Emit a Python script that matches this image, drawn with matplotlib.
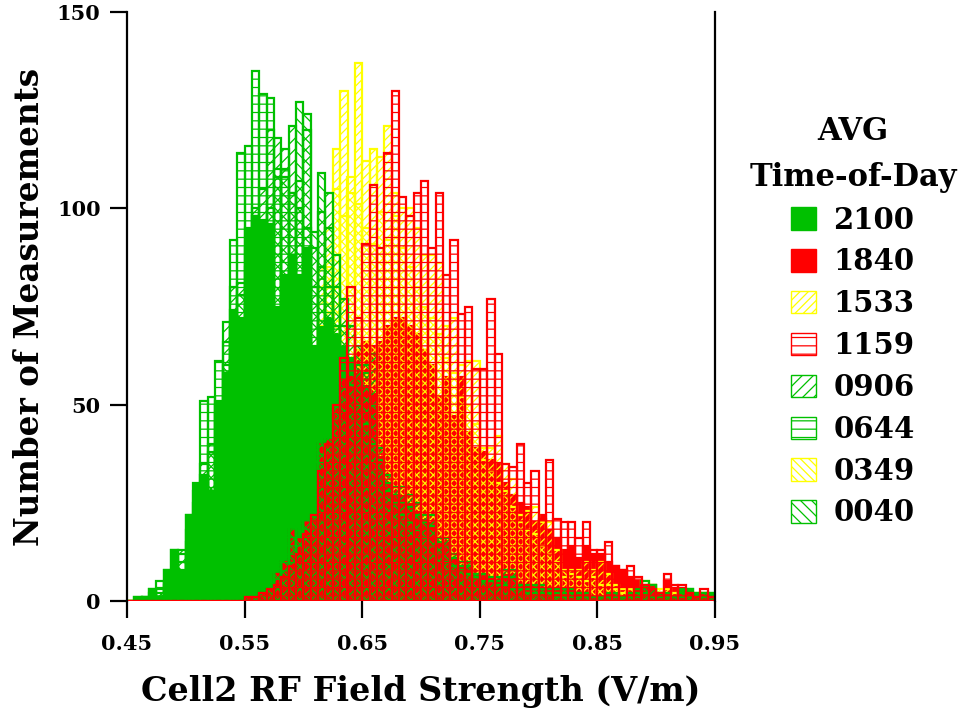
import numpy as np
import matplotlib
matplotlib.use("Agg")
import matplotlib.pyplot as plt
from matplotlib.patches import Patch
from matplotlib.path import Path

plt.rcParams['font.family'] = ['DejaVu Serif']
plt.rcParams['font.weight'] = 'bold'
plt.rcParams['hatch.linewidth'] = 0.9

# Histogram bins: 80 bins of width 0.00625 V/m from 0.45 to 0.95
bin_start = 0.45
bin_width = 0.00625
n_bins = 80

labels = ["2100", "1840", "1533", "1159", "0906", "0644", "0349", "0040"]

t2100 = [0, 1, 1, 3, 1, 8, 13, 8, 22, 30,
         32, 28, 51, 58, 74, 72, 95, 98, 97, 96,
         75, 83, 88, 83, 90, 65, 70, 72, 68, 65,
         62, 58, 55, 53, 37, 30, 27, 27, 25, 23,
         21, 20, 15, 15, 11, 9, 9, 7, 7, 6,
         5, 7, 7, 4, 4, 4, 3, 3, 3, 3,
         3, 2, 2, 1, 1, 2, 2, 1, 2, 3,
         4, 4, 2, 2, 1, 3, 3, 2, 2, 2]

t1840 = [0, 0, 0, 0, 0, 0, 0, 0, 0, 0,
         0, 0, 0, 0, 0, 0, 1, 1, 2, 3,
         7, 10, 18, 16, 20, 21, 40, 41, 49, 56,
         57, 64, 66, 65, 66, 70, 72, 72, 70, 68,
         64, 60, 52, 57, 47, 57, 43, 39, 38, 36,
         35, 30, 27, 25, 24, 20, 22, 18, 16, 13,
         14, 11, 14, 12, 12, 10, 9, 8, 6, 5,
         3, 4, 2, 5, 3, 2, 2, 1, 2, 1]

t1533 = [0, 0, 0, 0, 0, 0, 0, 0, 0, 0,
         1, 1, 2, 5, 6, 6, 11, 13, 19, 29,
         37, 42, 44, 50, 60, 64, 85, 95, 115, 130,
         108, 137, 112, 115, 113, 121, 104, 100, 100, 95,
         88, 88, 86, 70, 72, 60, 61, 61, 39, 39,
         42, 35, 31, 22, 23, 24, 20, 20, 13, 6,
         8, 8, 10, 8, 10, 7, 4, 3, 3, 2,
         5, 4, 3, 3, 2, 2, 1, 2, 2, 1]

t1159 = [0, 0, 0, 0, 0, 0, 0, 0, 0, 0,
         0, 0, 0, 0, 0, 0, 1, 1, 2, 3,
         4, 6, 9, 12, 17, 22, 33, 40, 50, 62,
         80, 72, 91, 106, 90, 114, 130, 103, 98, 104,
         107, 90, 104, 83, 92, 73, 75, 59, 59, 77,
         63, 35, 34, 40, 30, 33, 21, 36, 21, 20,
         20, 16, 20, 13, 13, 15, 9, 8, 9, 6,
         4, 3, 2, 7, 4, 4, 2, 1, 3, 1]

t0906 = [0, 0, 1, 2, 3, 5, 8, 13, 18, 25,
         35, 40, 50, 71, 80, 81, 90, 100, 105, 120,
         118, 115, 121, 107, 120, 90, 99, 104, 88, 77,
         70, 60, 58, 63, 39, 32, 29, 29, 27, 25,
         22, 22, 16, 16, 12, 10, 10, 7, 7, 6,
         6, 8, 8, 4, 4, 4, 4, 3, 3, 3,
         3, 2, 2, 1, 1, 2, 2, 1, 2, 3,
         5, 4, 2, 2, 1, 3, 3, 2, 2, 2]

t0644 = [0, 1, 1, 3, 5, 8, 13, 12, 22, 28,
         51, 52, 61, 66, 92, 114, 116, 135, 129, 128,
         108, 110, 104, 100, 95, 80, 85, 80, 70, 60,
         55, 50, 45, 40, 33, 28, 25, 22, 20, 18,
         16, 14, 12, 10, 9, 8, 7, 6, 5, 5,
         4, 4, 3, 3, 2, 2, 2, 2, 1, 1,
         1, 1, 1, 0, 1, 1, 0, 1, 1, 1,
         2, 1, 1, 0, 1, 1, 1, 0, 1, 1]

t0349 = [0, 0, 0, 0, 0, 0, 0, 0, 0, 0,
         0, 1, 1, 2, 1, 5, 6, 7, 12, 15,
         22, 30, 41, 38, 50, 62, 70, 85, 105, 98,
         104, 101, 95, 91, 99, 92, 98, 90, 85, 80,
         75, 72, 68, 62, 58, 52, 50, 45, 36, 33,
         30, 28, 24, 20, 18, 17, 14, 12, 10, 8,
         7, 6, 5, 6, 4, 4, 3, 2, 3, 2,
         2, 1, 2, 1, 1, 1, 1, 0, 1, 1]

t0040 = [0, 0, 0, 1, 2, 4, 6, 10, 15, 22,
         30, 38, 48, 60, 70, 78, 85, 98, 95, 100,
         110, 108, 104, 127, 124, 94, 109, 95, 80, 70,
         62, 65, 60, 50, 36, 30, 27, 25, 24, 22,
         20, 19, 15, 14, 11, 9, 9, 7, 7, 5,
         5, 6, 6, 4, 3, 3, 3, 2, 2, 2,
         2, 2, 1, 1, 1, 1, 1, 1, 1, 2,
         4, 3, 1, 1, 1, 2, 2, 1, 1, 1]

GREEN = "#00c000"
RED = "#ff0000"
YELLOW = "#ffff00"

styles = {
    "2100": dict(face=GREEN, edge=GREEN, hatch=None),
    "1840": dict(face=RED, edge=RED, hatch=None),
    "1533": dict(face="none", edge=YELLOW, hatch="////"),
    "1159": dict(face="none", edge=RED, hatch="--"),
    "0906": dict(face="none", edge=GREEN, hatch="///"),
    "0644": dict(face="none", edge=GREEN, hatch="--"),
    "0349": dict(face="none", edge=YELLOW, hatch="\\\\\\\\"),
    "0040": dict(face="none", edge=GREEN, hatch="\\\\\\"),
}
data = {"2100": t2100, "1840": t1840, "1533": t1533, "1159": t1159,
        "0906": t0906, "0644": t0644, "0349": t0349, "0040": t0040}

draw_order = ["2100", "1840", "0349", "1533", "0040", "0906", "0644", "1159"]

fig = plt.figure(figsize=(9.69, 7.13), dpi=100)
ax = fig.add_axes([127 / 969, 1 - 601 / 713, 588 / 969, 589 / 713])

lefts = bin_start + bin_width * np.arange(n_bins)

# region above the solid green bars (yellow hatch is hidden under solid green)
verts, codes = [], []
g = np.asarray(t2100, dtype=float)
for x0, h in zip(lefts, g):
    x1 = x0 + bin_width
    verts += [(x0, h), (x1, h), (x1, 200), (x0, 200), (x0, h)]
    codes += [Path.MOVETO, Path.LINETO, Path.LINETO, Path.LINETO, Path.CLOSEPOLY]
above_green = Path(verts, codes)

for z, name in enumerate(draw_order):
    st = styles[name]
    vals = np.asarray(data[name], dtype=float)
    bars = ax.bar(lefts, vals, width=bin_width, align="edge",
                  facecolor=st["face"], edgecolor=st["edge"],
                  hatch=st["hatch"], linewidth=1.6, zorder=2 + z)
    if st["edge"] == YELLOW:
        for b in bars:
            b.set_clip_path(above_green, ax.transData)

ax.set_xlim(0.45, 0.95)
ax.set_ylim(0, 150)
ax.set_xticks([0.45, 0.55, 0.65, 0.75, 0.85, 0.95])
ax.set_xticklabels(["0.45", "0.55", "0.65", "0.75", "0.85", "0.95"])
ax.set_yticks([0, 50, 100, 150])
ax.spines["top"].set_visible(False)
ax.spines["bottom"].set_visible(False)
for s in ["left", "right"]:
    ax.spines[s].set_linewidth(1.6)
    ax.spines[s].set_color("black")
    ax.spines[s].set_zorder(20)
ax.tick_params(axis="both", direction="out", length=12, width=1.6,
               labelsize=15, color="black")
ax.tick_params(axis="x", pad=12)
ax.tick_params(axis="y", pad=7, right=False)
for lab in ax.get_xticklabels() + ax.get_yticklabels():
    lab.set_fontweight("bold")

ax.set_xlabel("Cell2 RF Field Strength (V/m)", fontsize=24, fontweight="bold",
              labelpad=15)
ax.set_ylabel("Number of Measurements", fontsize=23.5, fontweight="bold",
              labelpad=8)

handles = []
for name in labels:
    st = styles[name]
    handles.append(Patch(facecolor=st["face"], edgecolor=st["edge"],
                         hatch=st["hatch"], linewidth=1.0, label=name))
leg = fig.legend(handles=handles, labels=labels, loc="upper center",
                 bbox_to_anchor=(853 / 969, 1 - 96 / 713),
                 frameon=False, fontsize=21, title="AVG\nTime-of-Day",
                 title_fontproperties={"size": 22, "weight": "bold"},
                 alignment="center",
                 handlelength=0.85, handleheight=0.8, handletextpad=0.6,
                 labelspacing=0.44, borderpad=0.2)
leg.get_title().set_multialignment("center")
leg.get_title().set_linespacing(1.6)

fig.savefig("out.png", dpi=100)
